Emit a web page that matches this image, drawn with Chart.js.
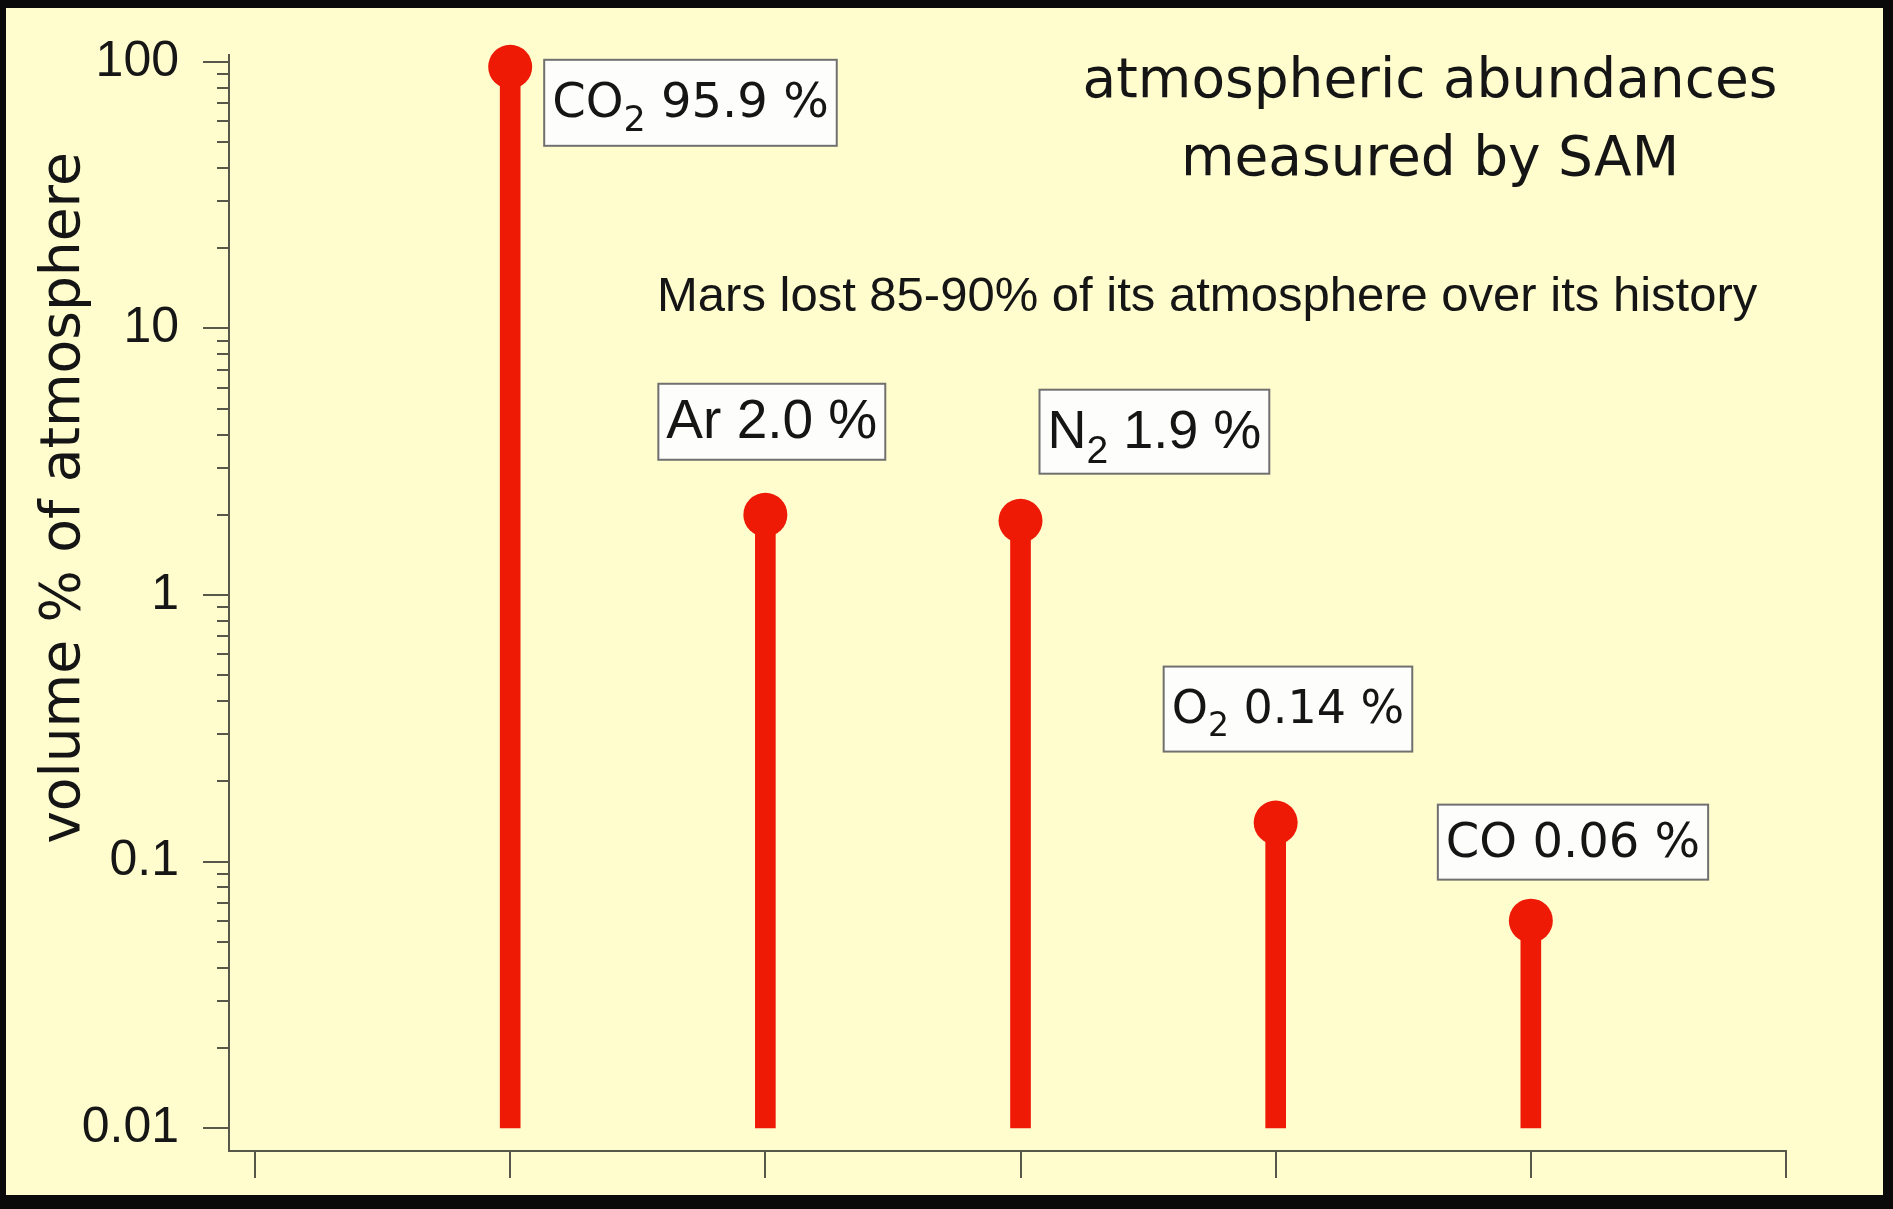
<!DOCTYPE html>
<html>
<head>
<meta charset="utf-8">
<script src="https://cdn.jsdelivr.net/npm/chart.js@4"></script>
<style>
  html, body { margin: 0; padding: 0; background: #0a0a0a; overflow: hidden; }
  #chart { display: block; }
</style>
</head>
<body>
<canvas id="chart" width="1893" height="1209"></canvas>
<script>
// gases and their measured volume % (SAM)
const gasNames = ['CO', 'Ar', 'N', 'O', 'CO'];
const gasSubs = ['2', '', '2', '2', ''];
const abundances = [95.9, 2.0, 1.9, 0.14, 0.06];
const abundanceText = ['95.9 %', '2.0 %', '1.9 %', '0.14 %', '0.06 %'];
const xPositions = [1, 2, 3, 4, 5];
const xTickValues = [0, 1, 2, 3, 4, 5, 6];
const yMajorTicks = [0.01, 0.1, 1, 10, 100];
const stemBase = 0.01;

const red = '#ee1a06';
const axisColor = '#58584a';

// minor ticks 2..9 in each decade
let yMinorTicks = [];
yMajorTicks.slice(0, -1).forEach(d => {
  for (let k = 2; k <= 9; k++) yMinorTicks.push(d * k);
});

// where each value box sits relative to its dot
const labelBoxes = [
  { dx: 34, dy: -7, h: 86, family: 'DejaVu Sans', size: 48 },
  { dx: -107, dy: -131, h: 76, family: 'Liberation Sans', size: 55 },
  { dx: 19, dy: -131, h: 84, family: 'Liberation Sans', size: 54 },
  { dx: -112, dy: -156, h: 85, family: 'DejaVu Sans', size: 46 },
  { dx: -93, dy: -116, h: 75, family: 'DejaVu Sans', size: 48 }
];

const decor = {
  id: 'decor',
  beforeDraw(chart) {
    const ctx = chart.ctx;
    ctx.save();
    ctx.fillStyle = '#0a0a0a';
    ctx.fillRect(0, 0, chart.width, chart.height);
    ctx.fillStyle = '#fffdcd';
    ctx.fillRect(6, 8, 1877, 1187);
    ctx.restore();
  },
  afterDraw(chart) {
    const ctx = chart.ctx;
    const x = chart.scales.x, y = chart.scales.y;
    ctx.save();

    // minor ticks on the log axis
    ctx.strokeStyle = axisColor;
    ctx.lineWidth = 2;
    yMinorTicks.forEach(v => {
      const py = Math.round(y.getPixelForValue(v));
      ctx.beginPath();
      ctx.moveTo(x.left - 12, py);
      ctx.lineTo(x.left, py);
      ctx.stroke();
    });

    // value boxes
    abundances.forEach((v, i) => {
      const b = labelBoxes[i];
      const px = x.getPixelForValue(xPositions[i]);
      const py = y.getPixelForValue(v);
      const pad = 8;
      const mainFont = b.size + 'px "' + b.family + '"';
      const subFont = Math.round(b.size * 0.72) + 'px "' + b.family + '"';
      ctx.font = mainFont;
      const nameW = ctx.measureText(gasNames[i]).width;
      const restW = ctx.measureText(' ' + abundanceText[i]).width;
      ctx.font = subFont;
      const subW = gasSubs[i] ? ctx.measureText(gasSubs[i]).width : 0;
      const w = nameW + subW + restW + pad * 2;
      const left = px + b.dx, top = py + b.dy;
      ctx.fillStyle = '#fdfdfb';
      ctx.fillRect(left, top, w, b.h);
      ctx.strokeStyle = '#707070';
      ctx.lineWidth = 2;
      ctx.strokeRect(left, top, w, b.h);
      const base = top + b.h / 2 + b.size * 0.3;
      ctx.fillStyle = '#151515';
      ctx.textAlign = 'left';
      ctx.textBaseline = 'alphabetic';
      ctx.font = mainFont;
      ctx.fillText(gasNames[i], left + pad, base);
      if (gasSubs[i]) {
        ctx.font = subFont;
        ctx.fillText(gasSubs[i], left + pad + nameW, base + b.size * 0.28);
      }
      ctx.font = mainFont;
      ctx.fillText(' ' + abundanceText[i], left + pad + nameW + subW, base);
    });

    // title
    ctx.fillStyle = '#151515';
    ctx.textAlign = 'center';
    ctx.font = '55px "DejaVu Sans"';
    ctx.fillText('atmospheric abundances', 1430, 97);
    ctx.fillText('measured by SAM', 1430, 175);

    // note
    ctx.textAlign = 'left';
    ctx.font = '49px "Liberation Sans"';
    ctx.fillText('Mars lost 85-90% of its atmosphere over its history', 657, 311);

    // y axis title
    ctx.translate(79, 498);
    ctx.rotate(-Math.PI / 2);
    ctx.textAlign = 'center';
    ctx.font = '55px "DejaVu Sans"';
    ctx.fillText('volume % of atmosphere', 0, 0);

    ctx.restore();
  }
};

const chart = new Chart(document.getElementById('chart'), {
  type: 'bar',
  data: {
    datasets: [
      {
        type: 'bar',
        data: xPositions.map((p, i) => ({ x: p, y: [stemBase, abundances[i]] })),
        backgroundColor: red,
        borderWidth: 0,
        barThickness: 20,
        order: 2
      },
      {
        type: 'scatter',
        data: xPositions.map((p, i) => ({ x: p, y: abundances[i] })),
        pointRadius: 22,
        pointBackgroundColor: red,
        pointBorderWidth: 0,
        clip: false,
        order: 1
      }
    ]
  },
  options: {
    responsive: false,
    animation: false,
    devicePixelRatio: 1,
    layout: { padding: { top: 55, right: 107, left: 0, bottom: 0 } },
    plugins: {
      legend: { display: false },
      tooltip: { enabled: false },
      title: { display: false }
    },
    scales: {
      x: {
        type: 'linear',
        min: -0.102,
        max: 6,
        offset: false,
        afterBuildTicks: s => { s.ticks = xTickValues.map(v => ({ value: v })); },
        afterFit: s => { s.height = 58; },
        grid: { offset: false, drawOnChartArea: false, tickLength: 27, color: axisColor, lineWidth: 2 },
        border: { color: axisColor, width: 2 },
        ticks: { callback: () => '', maxRotation: 0, autoSkip: false }
      },
      y: {
        type: 'logarithmic',
        min: 0.0082,
        max: 106.2,
        afterBuildTicks: s => { s.ticks = yMajorTicks.map(v => ({ value: v })); },
        afterFit: s => { s.width = 229; },
        grid: { drawOnChartArea: false, tickLength: 26, color: axisColor, lineWidth: 2 },
        border: { color: axisColor, width: 2 },
        ticks: {
          padding: 24,
          autoSkip: false,
          color: '#161616',
          font: { family: 'Liberation Sans', size: 50 },
          callback: v => yMajorTicks.includes(v) ? String(v) : ''
        }
      }
    }
  },
  plugins: [decor]
});
</script>
</body>
</html>
